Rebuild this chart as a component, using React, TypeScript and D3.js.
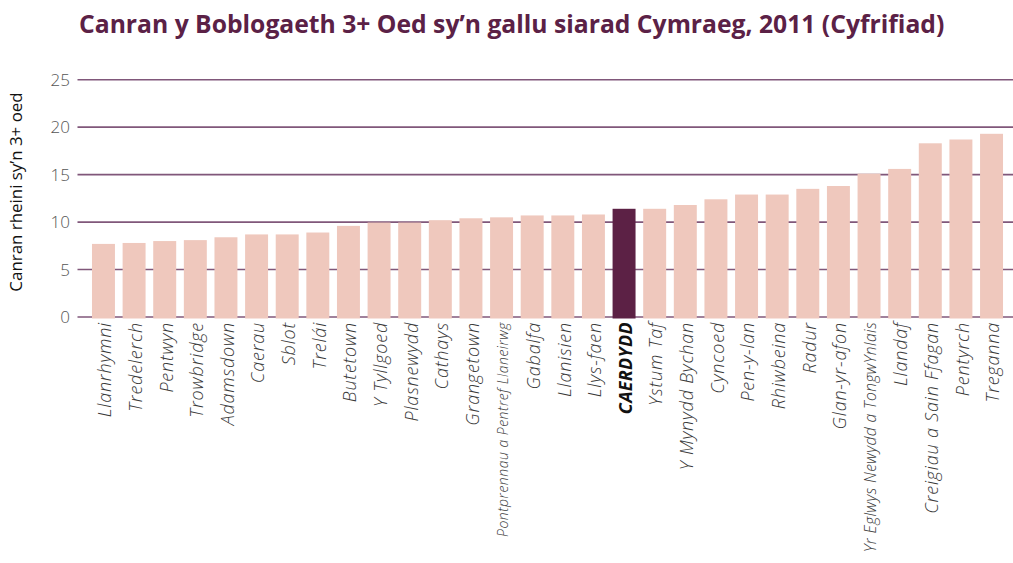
import React from "react";
import * as d3 from "d3";

const wards = [
  "Llanrhymni", "Tredelerch", "Pentwyn", "Trowbridge", "Adamsdown", "Caerau", "Sblot", "Trelái",
  "Butetown", "Y Tyllgoed", "Plasnewydd", "Cathays", "Grangetown", "Pontprennau a Pentref Llaneirwg",
  "Gabalfa", "Llanisien", "Llys-faen", "CAERDYDD", "Ystum Taf", "Y Mynydd Bychan", "Cyncoed",
  "Pen-y-lan", "Rhiwbeina", "Radur", "Glan-yr-afon", "Yr Eglwys Newydd a TongwYnlais", "Llandaf",
  "Creigiau a Sain Ffagan", "Pentyrch", "Treganna",
];
const percent = [
  7.7, 7.8, 8.0, 8.1, 8.4, 8.7, 8.7, 8.9,
  9.6, 9.95, 9.95, 10.2, 10.4, 10.5,
  10.7, 10.7, 10.8, 11.4, 11.4, 11.8, 12.4,
  12.9, 12.9, 13.5, 13.8, 15.1, 15.6,
  18.3, 18.7, 19.3,
];
const yTicks = [0, 5, 10, 15, 20, 25];
const highlight = "CAERDYDD";
const smallLabels = ["Pontprennau a Pentref Llaneirwg", "Yr Eglwys Newydd a TongwYnlais"];

const title = "Canran y Boblogaeth 3+ Oed sy’n gallu siarad Cymraeg, 2011 (Cyfrifiad)";
const yTitle = "Canran rheini sy’n 3+ oed";

const W = 1013;
const H = 563;
const labelFont = "'Open Sans', 'Noto Sans', sans-serif";

export default function App() {
  const x = d3.scaleBand<string>().domain(wards).range([88, 1007]).paddingInner(0.25).paddingOuter(0.13);
  const y = d3.scaleLinear().domain([0, 25]).range([317, 79.7]);

  return (
    <svg width={W} height={H} style={{ position: "absolute", left: 0, top: 0, background: "#fff" }}>
      <text x={79} y={33} fontFamily="'Open Sans', sans-serif" fontWeight={700} fontSize={24.7}
        fill="#5b2146">{title}</text>

      {yTicks.map((t) => (
        <g key={t}>
          <line x1={77.5} x2={1013} y1={y(t)} y2={y(t)} stroke="#80577a" strokeWidth={1.6} />
          <text x={70} y={y(t)} dy="0.36em" textAnchor="end" fontFamily={labelFont} fontWeight={300}
            fontSize={17} fill="#555">{t}</text>
        </g>
      ))}

      {wards.map((w, i) => (
        <rect key={w} x={x(w)} width={x.bandwidth()} y={y(percent[i])}
          height={y(0) - y(percent[i]) + 1.5}
          fill={w === highlight ? "#5c2145" : "#efc8bd"} />
      ))}

      {wards.map((w) => {
        const cx = (x(w) as number) + x.bandwidth() / 2 + 1.5;
        const isH = w === highlight;
        const first = w === smallLabels[0];
        const second = w === smallLabels[1];
        return (
          <text key={w} transform={`translate(${cx},322) rotate(-90)`} textAnchor="end" dy="0.35em"
            fontFamily={labelFont} fontStyle="italic" fontWeight={isH ? 700 : 300}
            fontSize={first ? 14 : second ? 15.6 : 18}
            letterSpacing={first ? 0.5 : second ? 0.4 : isH ? 0.3 : 0.8}
            fill={isH ? "#111" : "#3a3a3a"}>{w}</text>
        );
      })}

      <text transform="translate(16,192) rotate(-90)" textAnchor="middle" dy="0.35em"
        fontFamily={labelFont} fontSize={16.9} fill="#111">{yTitle}</text>
    </svg>
  );
}
